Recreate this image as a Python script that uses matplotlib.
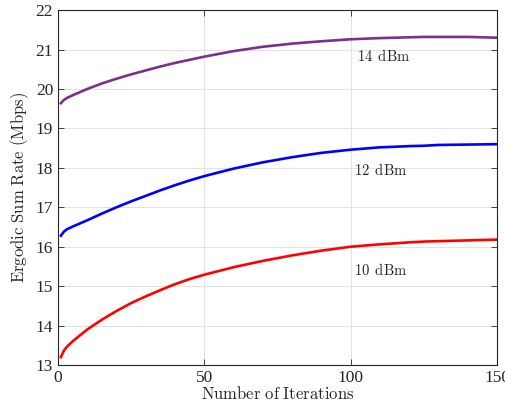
import matplotlib
matplotlib.use("Agg")
import matplotlib.pyplot as plt
import numpy as np

iters = [1, 2, 3, 5, 10, 15, 20, 25, 30, 35, 40, 45, 50, 60, 70, 80, 90, 100,
         110, 120, 125, 130, 140, 150]
rate_10dbm = [13.2, 13.36, 13.46, 13.6, 13.9, 14.15, 14.37, 14.57, 14.74, 14.9, 15.05, 15.18,
              15.29, 15.48, 15.64, 15.78, 15.9, 16.0, 16.06, 16.11, 16.13, 16.14, 16.16, 16.18]
rate_12dbm = [16.28, 16.38, 16.44, 16.51, 16.67, 16.84, 17.0, 17.15, 17.29, 17.43, 17.56, 17.68,
              17.79, 17.98, 18.14, 18.27, 18.38, 18.46, 18.52, 18.55, 18.56, 18.58, 18.59, 18.6]
rate_14dbm = [19.64, 19.72, 19.77, 19.84, 20.0, 20.14, 20.26, 20.37, 20.47, 20.57, 20.66, 20.74,
              20.82, 20.96, 21.07, 21.15, 21.21, 21.26, 21.29, 21.31, 21.32, 21.32, 21.32, 21.3]
labels = [r"$\mathrm{10\ \,dBm}$", r"$\mathrm{12\ \,dBm}$", r"$\mathrm{14\ \,dBm}$"]
label_pos = [(101, 15.4), (101, 17.95), (102, 20.84)]

plt.rcParams['font.family'] = ['Liberation Serif', 'DejaVu Serif']
plt.rcParams['mathtext.fontset'] = 'cm'
dark = '#262626'

fig = plt.figure(figsize=(5.06, 4.04), dpi=100)
ax = fig.add_axes([0.1146, 0.0965, 0.8676, 0.8785])

ax.plot(iters, rate_10dbm, color=(1, 0, 0), lw=1.9)
ax.plot(iters, rate_12dbm, color=(0, 0, 1), lw=1.9)
ax.plot(iters, rate_14dbm, color=(0.494, 0.184, 0.556), lw=1.9)

for lab, (x, y) in zip(labels, label_pos):
    ax.text(x, y, lab, fontsize=10.5, color=dark, va='center')

ax.set_xlim(0, 150)
ax.set_ylim(13, 22)
ax.set_xticks([0, 50, 100, 150])
ax.set_yticks(np.arange(13, 23, 1))
ax.grid(True, color='#e3e3e3', lw=0.8)
ax.set_axisbelow(True)
ax.tick_params(direction='in', top=True, right=True, length=4, width=0.6,
               labelsize=12.5, colors=dark)
for s in ax.spines.values():
    s.set_color(dark)
    s.set_linewidth(0.8)
ax.set_xlabel(r'$\mathrm{Number\ of\ Iterations}$', fontsize=12, color=dark, labelpad=0)
ax.set_ylabel(r'$\mathrm{Ergodic\ Sum\ Rate\ (Mbps)}$', fontsize=12, color=dark, labelpad=3)

fig.savefig('out.png', dpi=100)
